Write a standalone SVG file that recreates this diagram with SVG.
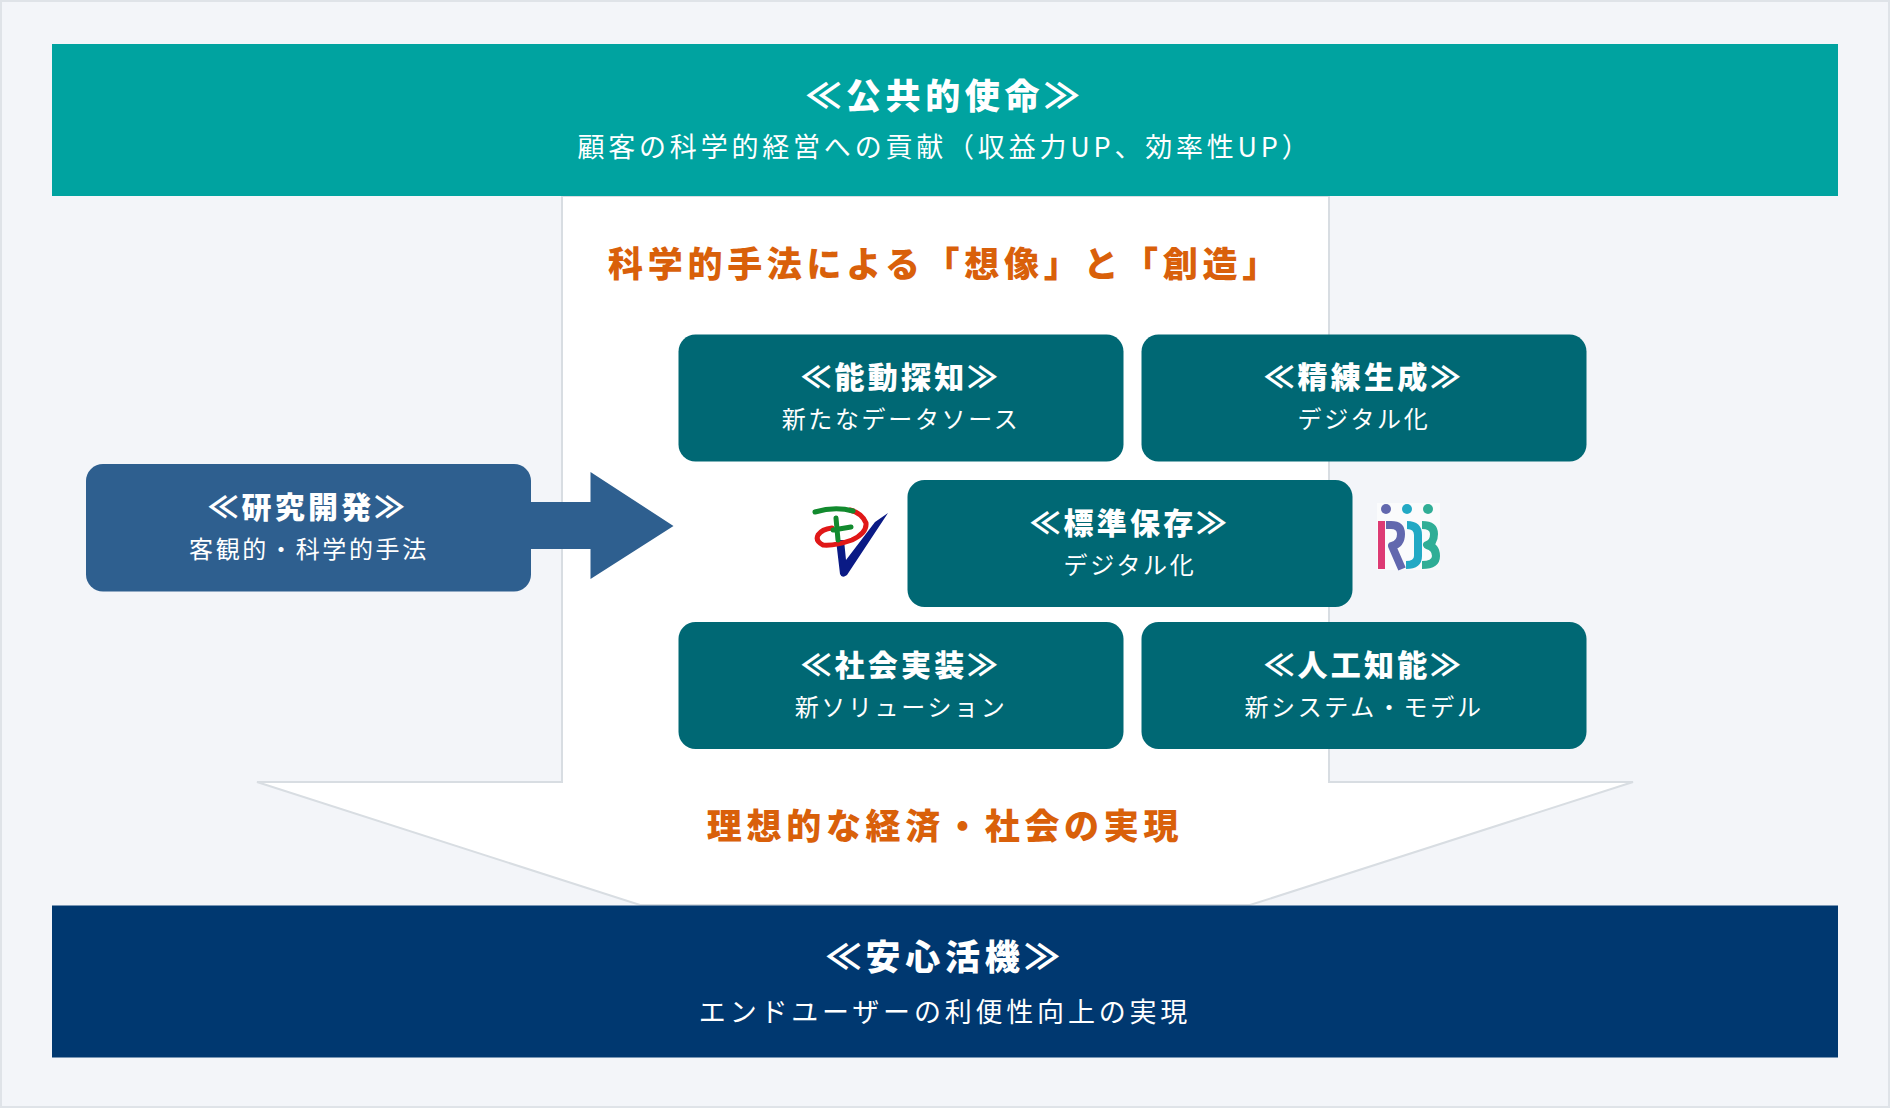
<svg xmlns="http://www.w3.org/2000/svg" width="1890" height="1108" viewBox="0 0 1890 1108">
<style>
text{font-family:"Noto Sans CJK JP","Noto Sans",sans-serif;text-anchor:middle;fill:#fff}
.t{font-size:35px;font-weight:900;letter-spacing:4.700px}
.s{font-size:27px;font-weight:400;letter-spacing:3.800px}
.bt{font-size:30px;font-weight:900;letter-spacing:3.300px}
.bs{font-size:24px;font-weight:400;letter-spacing:2.650px}
.o{font-size:35px;font-weight:900;letter-spacing:4.700px;fill:#d9600a}
.g{fill:#006874}
.none{fill:none;stroke-linecap:round;stroke-linejoin:round}
.btt{fill:none;stroke-linecap:butt;stroke-linejoin:round;stroke-width:8px}
</style>
<rect x="1" y="1" width="1888" height="1106" fill="#f3f5f9" stroke="#dfe3e8" stroke-width="2"/>
<g id="connectors">
<path id="funnel" d="M562 196V782H257L640 905H1250L1633 782H1329V196Z" fill="#fff" stroke="#d8dde2" stroke-width="2"/>
<path id="arrow" d="M530 502H590.500V472L673.500 526L590.500 579V549H530Z" fill="#2e5f8f"/>
</g>
<g id="mission"><rect x="52" y="44" width="1786" height="152" fill="#00a3a0"/>
<text class="t" x="945" y="109">≪公共的使命≫</text>
<text class="s" x="945" y="157">顧客の科学的経営への貢献（収益力UP、効率性UP）</text></g>
<text class="o" x="945" y="277">科学的手法による「想像」と「創造」</text>
<g id="rd"><rect x="86" y="464" width="445" height="127.500" rx="17" fill="#2e5f8f"/>
<text class="bt" x="308" y="518">≪研究開発≫</text>
<text class="bs" x="309" y="558">客観的・科学的手法</text></g>
<g id="n1"><rect class="g" x="678.500" y="334.500" width="445" height="127" rx="17"/>
<text class="bt" x="901" y="388">≪能動探知≫</text><text class="bs" x="901" y="428">新たなデータソース</text></g>
<g id="n2"><rect class="g" x="1141.500" y="334.500" width="445" height="127" rx="17"/>
<text class="bt" x="1364" y="388">≪精練生成≫</text><text class="bs" x="1364" y="428">デジタル化</text></g>
<g id="n3"><rect class="g" x="907.500" y="480" width="445" height="127" rx="17"/>
<text class="bt" x="1130" y="534">≪標準保存≫</text><text class="bs" x="1130" y="574">デジタル化</text></g>
<g id="n4"><rect class="g" x="678.500" y="622" width="445" height="127" rx="17"/>
<text class="bt" x="901" y="676">≪社会実装≫</text><text class="bs" x="901" y="716">新ソリューション</text></g>
<g id="n5"><rect class="g" x="1141.500" y="622" width="445" height="127" rx="17"/>
<text class="bt" x="1364" y="676">≪人工知能≫</text><text class="bs" x="1364" y="716">新システム・モデル</text></g>
<g id="logo-pv">
<path d="M836 540L840 574Q842 579 847 575L888 513L875 522L846 560L844 540Z" fill="#0a1a85"/>
<path d="M850 510Q862 513 866 523Q867 533 852 540Q835 546 823 545Q815 541 818 535Q822 529 832 528" class="none" stroke="#e01818" stroke-width="5"/>
<path d="M815 512Q835 506 853 511M836 518L838 540M833 530L851 527" class="none" stroke="#128a2e" stroke-width="5"/>
</g>
<g id="logo-rdb">
<rect x="1377" y="503" width="63" height="67" fill="#fafbfc"/>
<circle cx="1386" cy="509" r="5" fill="#6268ae"/><circle cx="1407" cy="509" r="5" fill="#22a9c4"/><circle cx="1428" cy="509" r="5" fill="#30ae96"/>
<rect x="1378" y="521" width="7" height="48" fill="#dd3b74"/>
<path d="M1386 525H1391Q1401 525 1401 534Q1401 544 1392 546L1402 569" class="btt" stroke="#6268ae"/>
<path d="M1407 525Q1418 525 1418 535V556Q1418 565 1406 565" class="btt" stroke="#22a9c4"/>
<path d="M1422 525Q1434 525 1434 534Q1434 543 1427 545Q1436 547 1436 556Q1436 565 1422 565" class="btt" stroke="#30ae96"/>
</g>
<text class="o" x="945" y="839">理想的な経済・社会の実現</text>
<g id="safe"><rect x="52" y="905.500" width="1786" height="152" fill="#003870"/>
<text class="t" x="945" y="970">≪安心活機≫</text>
<text class="s" x="945" y="1021.500">エンドユーザーの利便性向上の実現</text></g>
</svg>
